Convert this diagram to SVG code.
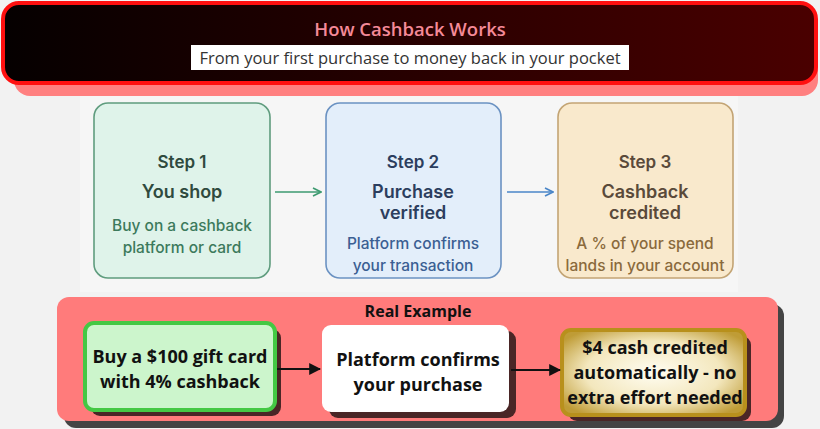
<svg xmlns="http://www.w3.org/2000/svg" width="820" height="429" viewBox="0 0 820 429">
<defs>
<linearGradient id="hdr" x1="0" y1="0" x2="1" y2="0">
<stop offset="0" stop-color="#050000"/>
<stop offset="1" stop-color="#4a0000"/>
</linearGradient>
<radialGradient id="gold" cx="0.5" cy="0.5" r="0.62">
<stop offset="0" stop-color="#fffdf2"/>
<stop offset="0.6" stop-color="#f3e7bd"/>
<stop offset="1" stop-color="#bf9c36"/>
</radialGradient>
<marker id="ag" viewBox="0 0 10 10" refX="9" refY="5" markerWidth="10" markerHeight="10" markerUnits="userSpaceOnUse" orient="auto"><path d="M1,1 L9,5 L1,9" fill="none" stroke="#3d9a70" stroke-width="1.6"/></marker>
<marker id="ab" viewBox="0 0 10 10" refX="9" refY="5" markerWidth="10" markerHeight="10" markerUnits="userSpaceOnUse" orient="auto"><path d="M1,1 L9,5 L1,9" fill="none" stroke="#4a86c8" stroke-width="1.6"/></marker>
<marker id="ak" viewBox="0 0 10 10" refX="9" refY="5" markerWidth="12" markerHeight="12" markerUnits="userSpaceOnUse" orient="auto"><path d="M0,0 L10,5 L0,10 Z" fill="#111"/></marker>
</defs>
<style>
.step{font-family:Inter,"Open Sans","Liberation Sans",sans-serif;text-anchor:middle}
.sh{font-size:17px;font-weight:600}
.st{font-size:18px;font-weight:600}
.sd{font-size:15.5px;font-weight:500}
.ex{font-family:"Open Sans","Liberation Sans",sans-serif;font-weight:700;font-size:18px;text-anchor:middle;fill:#111}
.shadow{fill:#4a2626}
</style>
<rect width="820" height="429" fill="#f2f2f2"/>
<rect x="80" y="95" width="658" height="197" fill="#f6f6f6"/>
<!-- header -->
<g id="header">
<rect x="14" y="14" width="804" height="82" rx="16" fill="#ff8080"/>
<rect x="3" y="3" width="813" height="80" rx="16" fill="url(#hdr)" stroke="#ff1010" stroke-width="4"/>
<text x="410" y="36" text-anchor="middle" font-family="'Open Sans','Liberation Sans',sans-serif" font-size="18.5" font-weight="600" fill="#f58a98">How Cashback Works</text>
<rect x="191" y="45" width="438" height="25" fill="#ffffff"/>
<text x="410" y="64" text-anchor="middle" font-family="'Open Sans','Liberation Sans',sans-serif" font-size="16.5" fill="#333">From your first purchase to money back in your pocket</text>
</g>
<!-- steps -->
<g id="step1">
<rect x="94" y="103" width="176" height="175" rx="14" fill="#dff3ea" stroke="#5f9c7e" stroke-width="1.6"/>
<text class="step sh" x="182" y="168" fill="#2f4a3e">Step 1</text>
<text class="step st" x="182" y="198" fill="#2f4a3e">You shop</text>
<text class="step sd" x="182" y="231" fill="#3c7a5c">Buy on a cashback</text>
<text class="step sd" x="182" y="253" fill="#3c7a5c">platform or card</text>
</g>
<g id="step2">
<rect x="326" y="103" width="175" height="175" rx="14" fill="#e3eefa" stroke="#6b92c2" stroke-width="1.6"/>
<text class="step sh" x="413" y="168" fill="#2c3e5e">Step 2</text>
<text class="step st" x="413" y="198" fill="#2c3e5e">Purchase</text>
<text class="step st" x="413" y="219" fill="#2c3e5e">verified</text>
<text class="step sd" x="413" y="249" fill="#3b5f93">Platform confirms</text>
<text class="step sd" x="413" y="271" fill="#3b5f93">your transaction</text>
</g>
<g id="step3">
<rect x="558" y="103" width="175" height="175" rx="14" fill="#f9e9cc" stroke="#c3a474" stroke-width="1.6"/>
<text class="step sh" x="645" y="168" fill="#5a4a3a">Step 3</text>
<text class="step st" x="645" y="198" fill="#5a4a3a">Cashback</text>
<text class="step st" x="645" y="219" fill="#5a4a3a">credited</text>
<text class="step sd" x="645" y="249" fill="#8a6a3c">A % of your spend</text>
<text class="step sd" x="645" y="271" fill="#8a6a3c">lands in your account</text>
</g>
<!-- example panel -->
<g id="example">
<rect x="64" y="304" width="720" height="124" rx="12" fill="#444"/>
<rect x="57" y="297" width="721" height="124" rx="12" fill="#ff7b7b"/>
<text x="418" y="317" text-anchor="middle" font-family="'Open Sans','Liberation Sans',sans-serif" font-size="16" font-weight="700" fill="#111">Real Example</text>
</g>
<g id="exA">
<rect x="91" y="329" width="190" height="87" rx="9" class="shadow"/>
<rect x="85" y="323" width="190" height="87" rx="9" fill="#ccf5cc" stroke="#44c844" stroke-width="4"/>
<text class="ex" x="180" y="363">Buy a $100 gift card</text>
<text class="ex" x="180" y="388">with 4% cashback</text>
</g>
<g id="exB">
<rect x="329" y="331" width="187" height="87" rx="9" class="shadow"/>
<rect x="322" y="325" width="187" height="87" rx="9" fill="#ffffff"/>
<text class="ex" x="418" y="366">Platform confirms</text>
<text class="ex" x="418" y="391">your purchase</text>
</g>
<g id="exC">
<rect x="568" y="336" width="183" height="85" rx="9" class="shadow"/>
<rect x="562" y="330" width="183" height="85" rx="9" fill="url(#gold)" stroke="#b8901c" stroke-width="4"/>
<text class="ex" x="655" y="354">$4 cash credited</text>
<text class="ex" x="655" y="379">automatically - no</text>
<text class="ex" x="655" y="404">extra effort needed</text>
</g>
<!-- connectors -->
<g id="connectors" fill="none">
<line x1="275" y1="192" x2="321" y2="192" stroke="#3d9a70" stroke-width="1.6" marker-end="url(#ag)"/>
<line x1="507" y1="192" x2="553" y2="192" stroke="#4a86c8" stroke-width="1.6" marker-end="url(#ab)"/>
<line x1="277" y1="369" x2="320" y2="369" stroke="#111" stroke-width="2" marker-end="url(#ak)"/>
<line x1="511" y1="370" x2="560" y2="370" stroke="#111" stroke-width="2" marker-end="url(#ak)"/>
</g>
</svg>
